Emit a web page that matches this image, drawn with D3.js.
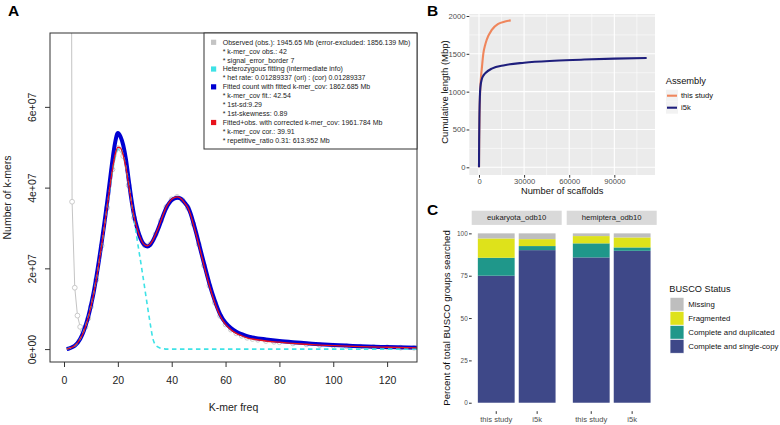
<!DOCTYPE html>
<html><head><meta charset="utf-8">
<script src="https://cdn.jsdelivr.net/npm/d3@7"></script>
<style>
body{margin:0;background:#fff}
svg{display:block}
text{font-family:"Liberation Sans",Arial,Helvetica,sans-serif}
</style>
</head><body>
<svg id="c" width="780" height="425"></svg>
<script>
// ---------- Panel A data (k-mer spectrum, values in units of 1e7) ----------
const fitFreq = [1,2,4,6,7,8,9,10,11,12,13,14,15,16,17,18,19,20,21,22,23,24,25,26,27,28,29,30,31,32,33,34,35,36,37,38,39,40,41,42,43,44,45,46,47,48,49,50,52,54,56,58,60,62,64,66,68,70,75,80,85,90,95,100,110,120,131];
const fittedCount = [0.00,0.02,0.08,0.25,0.39,0.58,0.80,1.08,1.40,1.78,2.20,2.65,3.12,3.62,4.15,4.68,5.12,5.35,5.26,5.05,4.70,4.20,3.72,3.32,3.04,2.82,2.66,2.57,2.54,2.58,2.68,2.82,2.98,3.16,3.34,3.50,3.61,3.69,3.73,3.75,3.74,3.69,3.61,3.52,3.36,3.14,2.90,2.64,2.12,1.62,1.20,0.86,0.65,0.52,0.43,0.37,0.32,0.29,0.24,0.20,0.17,0.145,0.12,0.10,0.07,0.05,0.03];
const fittedObs = [0.00,0.02,0.08,0.25,0.38,0.56,0.78,1.05,1.36,1.73,2.14,2.58,3.04,3.52,4.00,4.45,4.82,5.00,4.98,4.80,4.50,4.08,3.65,3.28,3.02,2.81,2.66,2.58,2.56,2.60,2.70,2.84,3.00,3.18,3.36,3.52,3.63,3.71,3.75,3.77,3.75,3.69,3.60,3.50,3.33,3.10,2.86,2.60,2.07,1.57,1.15,0.82,0.61,0.48,0.39,0.33,0.28,0.25,0.20,0.17,0.14,0.12,0.10,0.085,0.06,0.045,0.03];
const hetFreq = [1,2,4,6,8,10,12,14,16,18,19,20,21,22,23,24,25,26,27,28,29,30,31,32,33,34,35,36,37,38,40,50,60,80,100,120,131];
const hetFit = [0,0.02,0.08,0.25,0.57,1.06,1.74,2.58,3.50,4.40,4.76,4.95,4.97,4.80,4.50,4.10,3.66,3.22,2.78,2.36,1.94,1.50,1.06,0.64,0.26,0.10,0.05,0.02,0.01,0,0,0,0,0,0,0,0];
const obsFreq = [2,3,4,5,6,7,8,9,10,12,14,16,18,20,22,24,26,28,30,32,34,36,38,40,42,44,46,48,50,52,54,56,58,60,62,64,66,68,70,72,75,78,80,85,90,95,100,105,110,115,120,125,130];
const observed = [30,3.65,1.52,0.83,0.55,0.45,0.55,0.76,1.05,1.72,2.56,3.50,4.45,4.98,4.78,4.06,3.25,2.78,2.57,2.60,2.84,3.18,3.52,3.71,3.77,3.69,3.50,3.10,2.60,2.07,1.57,1.15,0.82,0.61,0.48,0.39,0.33,0.28,0.25,0.23,0.20,0.18,0.17,0.14,0.12,0.10,0.085,0.07,0.06,0.05,0.045,0.035,0.03];
const xTicksA = [0,20,40,60,80,100,120];
const yTicksA = [0,2e7,4e7,6e7];
const yTickLabelsA = ["0e+00","2e+07","4e+07","6e+07"];
const legendTextA = [
  "Observed (obs.): 1945.65 Mb (error-excluded: 1856.139 Mb)",
  "* k-mer_cov obs.: 42",
  "* signal_error_border 7",
  "Heterozygous fitting (intermediate info)",
  "* het rate: 0.01289337 (ori) : (cor) 0.01289337",
  "Fitted count with fitted k-mer_cov: 1862.685 Mb",
  "* k-mer_cov fit.: 42.54",
  "* 1st-sd:9.29",
  "* 1st-skewness: 0.89",
  "Fitted+obs. with corrected k-mer_cov: 1961.784 Mb",
  "* k-mer_cov cor.: 39.91",
  "* repetitive_ratio 0.31: 613.952 Mb"
];
const legendKeyA = ["obs",null,null,"het",null,"fit",null,null,null,"cor",null,null];

// ---------- Panel B data (cumulative length) ----------
const thisStudyN   = [0,150,400,800,1300,1800,2900,4000,5100,8500,12800,17300,21100];
const thisStudyLen = [0,400,750,1020,1190,1290,1505,1610,1684,1816,1895,1926,1942];
const i5kN   = [0,100,300,600,1000,1800,3000,4500,8500,17000,30000,50000,70000,90000,111500];
const i5kLen = [0,350,700,950,1070,1160,1215,1250,1305,1350,1382,1408,1424,1436,1445];
const assemblies = ["this study","i5k"];
const xTicksB = [0,30000,60000,90000];
const xMinorB = [15000,45000,75000,105000];
const yTicksB = [0,500,1000,1500,2000];
const yMinorB = [250,750,1250,1750];

// ---------- Panel C data (BUSCO) ----------
const buscoSets = ["eukaryota_odb10","hemiptera_odb10"];
const buscoAssembly = ["this study","i5k"];
const statusKeys = ["Complete and single-copy","Complete and duplicated","Fragmented","Missing"];
// order: euk/this study, euk/i5k, hem/this study, hem/i5k
const singleCopy = [75.0,90.1,85.8,89.7];
const duplicated = [10.6,2.4,8.3,2.0];
const fragmented = [11.4,4.1,4.3,5.9];
const missing    = [3.0,3.4,1.6,2.4];
const yTicksC = [0,25,50,75,100];

// ---------- colours ----------
const colA = {obs:"#C4C4C4", het:"#3EE2E6", fit:"#0000D2", cor:"#E8121C"};
const colB = {"this study":"#EF865C","i5k":"#1E1E7C"};
const colC = {"Complete and single-copy":"#3E4888","Complete and duplicated":"#1F978A","Fragmented":"#DEE21B","Missing":"#BEBEBE"};

const svg = d3.select("#c");
svg.append("rect").attr("width",780).attr("height",425).attr("fill","#fff");
const defs = svg.append("defs");
const plain = d3.format("d");

// ================= PANEL A =================
const xA = d3.scaleLinear().domain([-5.2,131.1]).range([50,417]);
const yA = d3.scaleLinear().domain([-3.2e6,7.83e7]).range([362,33]);
defs.append("clipPath").attr("id","clipA").append("rect").attr("x",50).attr("y",33).attr("width",367).attr("height",329);
const gA = svg.append("g");
const pA = gA.append("g").attr("clip-path","url(#clipA)");

const obsPts = obsFreq.map((f,i)=>[f,observed[i]*1e7]);
pA.append("path").datum(obsPts)
  .attr("d", d3.line().x(d=>xA(d[0])).y(d=>yA(d[1])))
  .attr("fill","none").attr("stroke",colA.obs).attr("stroke-width",1);
pA.selectAll("circle.obs").data(obsPts).join("circle")
  .attr("cx",d=>xA(d[0])).attr("cy",d=>yA(d[1])).attr("r",2.4)
  .attr("fill","#fff").attr("stroke",colA.obs).attr("stroke-width",0.9);

const smooth = d3.line().curve(d3.curveMonotoneX).x(d=>xA(d[0])).y(d=>yA(d[1]));
pA.append("path").datum(fitFreq.map((f,i)=>[f,fittedCount[i]*1e7]))
  .attr("d",smooth).attr("fill","none").attr("stroke",colA.fit).attr("stroke-width",4).attr("stroke-linejoin","round");
pA.append("path").datum(hetFreq.map((f,i)=>[f,hetFit[i]*1e7]))
  .attr("d",smooth).attr("fill","none").attr("stroke",colA.het).attr("stroke-width",1.6).attr("stroke-dasharray","4.5,3.5");
pA.append("path").datum(fitFreq.map((f,i)=>[f,fittedObs[i]*1e7]))
  .attr("d",smooth).attr("fill","none").attr("stroke",colA.cor).attr("stroke-width",1.3);

gA.append("rect").attr("x",50).attr("y",33).attr("width",367).attr("height",329)
  .attr("fill","none").attr("stroke","#333").attr("stroke-width",1);

const axA = gA.append("g").attr("transform","translate(0,362)")
  .call(d3.axisBottom(xA).tickValues(xTicksA).tickSize(5).tickPadding(10).tickSizeOuter(0));
axA.select(".domain").remove();
axA.selectAll("line").attr("stroke","#333");
axA.selectAll("text").attr("font-size","10.5px").attr("fill","#222");

const ayA = gA.append("g").attr("transform","translate(50,0)")
  .call(d3.axisLeft(yA).tickValues(yTicksA).tickSize(5).tickFormat((d,i)=>yTickLabelsA[i]).tickSizeOuter(0));
ayA.select(".domain").remove();
ayA.selectAll("line").attr("stroke","#333");
ayA.selectAll("text").attr("x",0).attr("dy","0.36em").attr("text-anchor","middle")
  .attr("transform","translate(-18,0) rotate(-90)").attr("font-size","10.5px").attr("fill","#222");

gA.append("text").attr("x",233.5).attr("y",410.5).attr("text-anchor","middle")
  .attr("font-size","10.5px").attr("fill","#222").text("K-mer freq");
gA.append("text").attr("transform","translate(10.5,197.5) rotate(-90)").attr("text-anchor","middle")
  .attr("font-size","10.5px").attr("fill","#222").text("Number of k-mers");

// legend A
const lgA = gA.append("g");
lgA.append("rect").attr("x",204).attr("y",33).attr("width",213).attr("height",116)
  .attr("fill","#fff").attr("stroke","#333").attr("stroke-width",1);
legendTextA.forEach((t,i)=>{
  const cy = 42.3 + i*8.91;
  if(legendKeyA[i]) lgA.append("rect").attr("x",211).attr("y",cy-2.6).attr("width",5.2).attr("height",5.2).attr("fill",colA[legendKeyA[i]]);
  lgA.append("text").attr("x",222.7).attr("y",cy).attr("dy","0.35em").attr("font-size","7px").attr("fill","#222").text(t);
});

svg.append("text").attr("x",8).attr("y",15.5).attr("font-size","15.5px").attr("font-weight","bold").text("A");

// ================= PANEL B =================
const xB = d3.scaleLinear().domain([-6450,117050]).range([469.3,655]);
const yB = d3.scaleLinear().domain([-101.8,2026.4]).range([175,14]);
const gB = svg.append("g");
gB.append("rect").attr("x",469.3).attr("y",14).attr("width",655-469.3).attr("height",161).attr("fill","#EBEBEB");
gB.selectAll("line.xmin").data(xMinorB).join("line").attr("x1",d=>xB(d)).attr("x2",d=>xB(d)).attr("y1",14).attr("y2",175).attr("stroke","#fff").attr("stroke-width",0.55);
gB.selectAll("line.ymin").data(yMinorB).join("line").attr("y1",d=>yB(d)).attr("y2",d=>yB(d)).attr("x1",469.3).attr("x2",655).attr("stroke","#fff").attr("stroke-width",0.55);
gB.selectAll("line.xmaj").data(xTicksB).join("line").attr("x1",d=>xB(d)).attr("x2",d=>xB(d)).attr("y1",14).attr("y2",175).attr("stroke","#fff").attr("stroke-width",1.1);
gB.selectAll("line.ymaj").data(yTicksB).join("line").attr("y1",d=>yB(d)).attr("y2",d=>yB(d)).attr("x1",469.3).attr("x2",655).attr("stroke","#fff").attr("stroke-width",1.1);
defs.append("clipPath").attr("id","clipB").append("rect").attr("x",469.3).attr("y",14).attr("width",655-469.3).attr("height",161);
const pB = gB.append("g").attr("clip-path","url(#clipB)");
const lineB = d3.line().curve(d3.curveMonotoneX).x(d=>xB(d[0])).y(d=>yB(d[1]));
pB.append("path").datum(thisStudyN.map((n,i)=>[n,thisStudyLen[i]])).attr("d",lineB)
  .attr("fill","none").attr("stroke",colB["this study"]).attr("stroke-width",2.1);
pB.append("path").datum(i5kN.map((n,i)=>[n,i5kLen[i]])).attr("d",lineB)
  .attr("fill","none").attr("stroke",colB["i5k"]).attr("stroke-width",2.1);

const axB = gB.append("g").attr("transform","translate(0,175)")
  .call(d3.axisBottom(xB).tickValues(xTicksB).tickFormat(plain).tickSize(2.7).tickPadding(0.8).tickSizeOuter(0));
axB.select(".domain").remove();
axB.selectAll("line").attr("stroke","#333");
axB.selectAll("text").attr("font-size","7.6px").attr("fill","#4D4D4D");
const ayB = gB.append("g").attr("transform","translate(469.3,0)")
  .call(d3.axisLeft(yB).tickValues(yTicksB).tickFormat(plain).tickSize(2.7).tickPadding(1.2).tickSizeOuter(0));
ayB.select(".domain").remove();
ayB.selectAll("line").attr("stroke","#333");
ayB.selectAll("text").attr("font-size","7.6px").attr("fill","#4D4D4D");
gB.append("text").attr("x",562.2).attr("y",194).attr("text-anchor","middle").attr("font-size","9.3px").attr("fill","#111").text("Number of scaffolds");
gB.append("text").attr("transform","translate(447.8,92) rotate(-90)").attr("text-anchor","middle").attr("font-size","9.5px").attr("fill","#111").text("Cumulative length (Mbp)");

gB.append("text").attr("x",665.7).attr("y",84.3).attr("font-size","9.3px").attr("fill","#111").text("Assembly");
assemblies.forEach((a,i)=>{
  const cy = 95.7 + i*12;
  gB.append("rect").attr("x",666).attr("y",cy-6).attr("width",12).attr("height",12).attr("fill","#F2F2F2");
  gB.append("line").attr("x1",667).attr("x2",677).attr("y1",cy).attr("y2",cy).attr("stroke",colB[a]).attr("stroke-width",2.1);
  gB.append("text").attr("x",681).attr("y",cy).attr("dy","0.35em").attr("font-size","7.6px").attr("fill","#111").text(a);
});
svg.append("text").attr("x",427).attr("y",15.5).attr("font-size","15.5px").attr("font-weight","bold").text("B");

// ================= PANEL C =================
const yC = d3.scaleLinear().domain([-5,105]).range([411.2,224.9]);
const facetRanges = [[471.7,561.7],[566.7,656.7]];
const gC = svg.append("g");
const rows = buscoSets.flatMap((s,si)=>buscoAssembly.map((a,ai)=>{
  const k = si*2+ai;
  return {set:s, asm:a, "Complete and single-copy":singleCopy[k], "Complete and duplicated":duplicated[k], "Fragmented":fragmented[k], "Missing":missing[k]};
}));
const stacked = d3.stack().keys(statusKeys)(rows);
buscoSets.forEach((s,si)=>{
  const [x0,x1] = facetRanges[si];
  const xC = d3.scaleBand().domain(buscoAssembly).range([x0,x1]).paddingInner(0.1).paddingOuter(0.15);
  gC.append("rect").attr("x",x0).attr("y",210.7).attr("width",x1-x0).attr("height",14.2).attr("fill","#D9D9D9");
  gC.append("text").attr("x",(x0+x1)/2).attr("y",217.8).attr("dy","0.35em").attr("text-anchor","middle").attr("font-size","7.7px").attr("fill","#1A1A1A").text(s);
  stacked.forEach(layer=>{
    gC.selectAll(null).data(layer.filter(d=>d.data.set===s)).join("rect")
      .attr("x",d=>xC(d.data.asm)).attr("width",xC.bandwidth())
      .attr("y",d=>yC(d[1])).attr("height",d=>yC(d[0])-yC(d[1]))
      .attr("fill",colC[layer.key]);
  });
  const ax = gC.append("g").attr("transform","translate(0,411.2)")
    .call(d3.axisBottom(xC).tickSize(2.7).tickPadding(2.6).tickSizeOuter(0));
  ax.select(".domain").remove();
  ax.selectAll("line").attr("stroke","#333");
  ax.selectAll("text").attr("font-size","7.6px").attr("fill","#4D4D4D");
});
const ayC = gC.append("g").attr("transform","translate(471.7,0)")
  .call(d3.axisLeft(yC).tickValues(yTicksC).tickSize(2.7).tickPadding(1.3).tickSizeOuter(0));
ayC.select(".domain").remove();
ayC.selectAll("line").attr("stroke","#333");
ayC.selectAll("text").attr("font-size","6.4px").attr("fill","#4D4D4D");
gC.append("text").attr("transform","translate(450,318) rotate(-90)").attr("text-anchor","middle").attr("font-size","9.6px").attr("fill","#111").text("Percent of total BUSCO groups searched");

gC.append("text").attr("x",669.3).attr("y",292.3).attr("font-size","9.2px").attr("fill","#111").text("BUSCO Status");
const legOrderC = statusKeys.slice().reverse();
legOrderC.forEach((k,i)=>{
  const top = 297.3 + i*14;
  gC.append("rect").attr("x",670).attr("y",top).attr("width",14).attr("height",14).attr("fill",colC[k]).attr("stroke","#fff").attr("stroke-width",0.8);
  gC.append("text").attr("x",688.3).attr("y",top+7).attr("dy","0.35em").attr("font-size","7.8px").attr("fill","#111").text(k);
});
svg.append("text").attr("x",427).attr("y",215).attr("font-size","15.5px").attr("font-weight","bold").text("C");
</script>
</body></html>
